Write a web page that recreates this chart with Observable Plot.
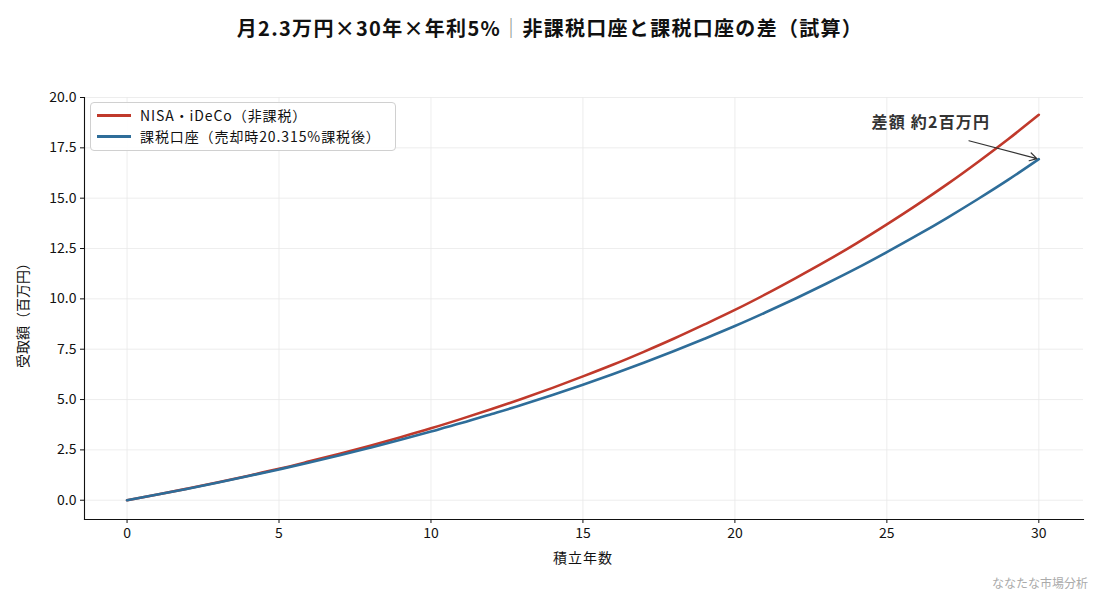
<!DOCTYPE html>
<html><head><meta charset="utf-8">
<script src="https://cdn.jsdelivr.net/npm/d3@7"></script>
<script src="https://cdn.jsdelivr.net/npm/@observablehq/plot@0.6"></script>
<style>
body{margin:0;background:#fff;font-family:"Noto Sans CJK JP","Noto Sans",sans-serif;}
#wrap{position:relative;width:1100px;height:594px;overflow:hidden;}
.ov{position:absolute;white-space:nowrap;color:#111;}
#title{left:0;width:1100px;top:13px;text-align:center;font-size:20px;font-weight:bold;letter-spacing:1.3px;}
#title .sep{font-weight:normal;color:#888;}
#ylab{left:22px;top:312px;transform:translate(-50%,-50%) rotate(-90deg);font-size:14px;}
#xlab{left:583px;top:547px;transform:translateX(-50%);font-size:14px;letter-spacing:1px;}
#wm{right:12px;top:574px;font-size:12px;color:#aaa;}
#legend{left:90px;top:102px;width:306px;height:49px;border:1px solid #d0d0d0;border-radius:4px;background:rgba(255,255,255,0.9);box-sizing:border-box;font-size:14px;letter-spacing:0.9px;}
.item{position:absolute;left:6px;display:flex;align-items:center;}
.sw{width:34px;height:0;border-top:3px solid;margin-right:9px;}
svg text{font-family:"Noto Sans CJK JP","Noto Sans",sans-serif;}
</style></head>
<body><div id="wrap"></div>
<script>
const years = [0,1,2,3,4,5,6,7,8,9,10,11,12,13,14,15,16,17,18,19,20,21,22,23,24,25,26,27,28,29,30];
const nisa = [0,0.28,0.58,0.89,1.22,1.56,1.93,2.31,2.71,3.13,3.57,4.04,4.53,5.04,5.58,6.15,6.74,7.37,8.03,8.73,9.45,10.22,11.03,11.87,12.76,13.70,14.68,15.71,16.80,17.94,19.14];
const taxed = [0,0.28,0.57,0.88,1.20,1.53,1.87,2.23,2.61,3.00,3.41,3.83,4.28,4.74,5.23,5.74,6.27,6.83,7.41,8.02,8.65,9.32,10.02,10.75,11.51,12.32,13.16,14.04,14.96,15.92,16.94];
const seriesNames = ["NISA・iDeCo（非課税）","課税口座（売却時20.315%課税後）"];
const colors = ["#c0392b","#2e6d99"];
const xTicks = [0,5,10,15,20,25,30];
const yTicks = [0,2.5,5,7.5,10,12.5,15,17.5,20];
const annotation = {label:"差額 約2百万円", tx:26.45, ty:18.72, ax:27.7, ay:17.85, bx:30, by:16.94};

const rows = [];
years.forEach((y,i)=>{rows.push({year:y,v:nisa[i],s:seriesNames[0]});rows.push({year:y,v:taxed[i],s:seriesNames[1]});});

const plot = Plot.plot({
  width:1100, height:594,
  marginLeft:84, marginRight:17, marginTop:97, marginBottom:75,
  x:{domain:[-1.4,31.47], ticks:xTicks, label:null},
  y:{domain:[-0.957,20], ticks:yTicks, tickFormat:d3.format(".1f"), label:null},
  color:{domain:seriesNames, range:colors},
  style:{fontSize:"14px", color:"#111"},
  marks:[
    Plot.gridX(xTicks,{stroke:"#e8e8e8", strokeOpacity:1, strokeWidth:0.8}),
    Plot.gridY(yTicks,{stroke:"#e8e8e8", strokeOpacity:1, strokeWidth:0.8}),
    Plot.axisX({ticks:xTicks, tickSize:4, tickPadding:5, fontSize:14, label:null}),
    Plot.axisY({ticks:yTicks, tickSize:4, tickPadding:4, fontSize:14, tickFormat:d3.format(".1f"), label:null}),
    Plot.frame({anchor:"left", stroke:"#111", strokeWidth:1.1}),
    Plot.frame({anchor:"bottom", stroke:"#111", strokeWidth:1.1}),
    Plot.line(rows,{x:"year", y:"v", stroke:"s", z:"s", strokeWidth:2.6, curve:"monotone-x"}),
    Plot.arrow([annotation],{x1:"ax", y1:"ay", x2:"bx", y2:"by", stroke:"#333", strokeWidth:1.2, headLength:10, insetEnd:2}),
    Plot.text([annotation],{x:"tx", y:"ty", text:"label", fontSize:16, fontWeight:"bold", fill:"#333"})
  ]
});
const wrap = document.getElementById("wrap");
wrap.appendChild(plot);
d3.select(plot).selectAll("text").filter(function(){return this.textContent===annotation.label;}).attr("letter-spacing","1.2px");
function ov(id, html){const d=document.createElement("div");d.className="ov";d.id=id;d.innerHTML=html;wrap.appendChild(d);return d;}
ov("title","月2.3万円×30年×年利5%<span class=\"sep\">｜</span>非課税口座と課税口座の差（試算）");
ov("ylab","受取額（百万円）");
ov("xlab","積立年数");
ov("wm","ななたな市場分析");
const lg = ov("legend","");
seriesNames.forEach((n,i)=>{const it=document.createElement("div");it.className="item";it.style.top=(i===0?2:23)+"px";it.innerHTML=`<span class="sw" style="border-color:${colors[i]}"></span><span>${n}</span>`;lg.appendChild(it);});
</script></body></html>
